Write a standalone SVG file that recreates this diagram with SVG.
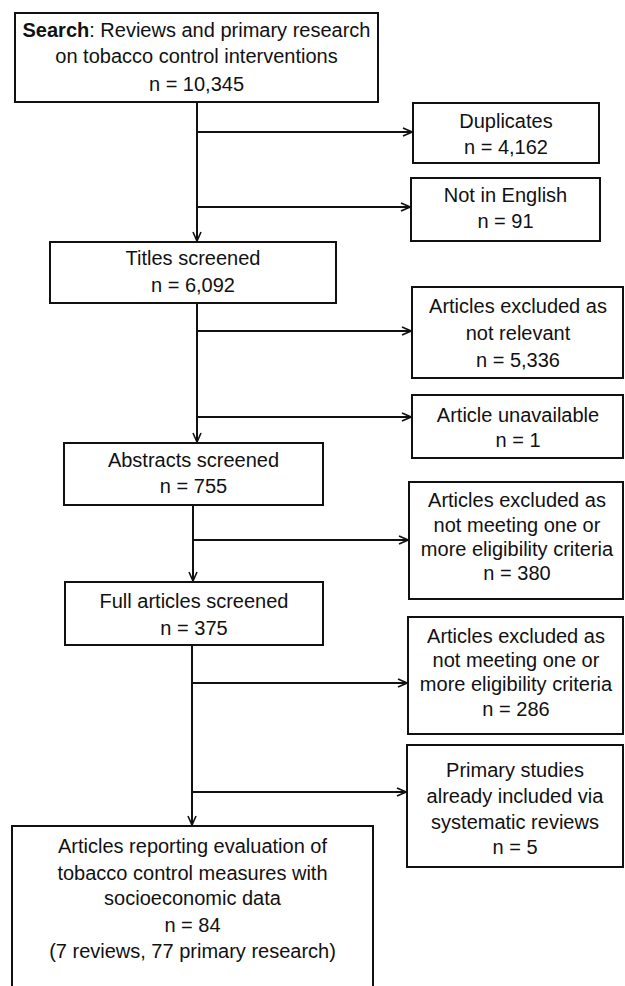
<svg xmlns="http://www.w3.org/2000/svg" width="625" height="986" viewBox="0 0 625 986">
<style>
.box{fill:#fff;stroke:#111;stroke-width:2}
.t{font-family:"Liberation Sans",Arial,sans-serif;font-size:20px;fill:#111;text-anchor:middle}
.ln{stroke:#111;stroke-width:2;fill:none}
</style>
<defs>
<marker id="ah" viewBox="0 0 10 10" refX="10" refY="5" markerWidth="10" markerHeight="10" markerUnits="userSpaceOnUse" orient="auto">
<path d="M1,1 L10,5 L1,9" fill="none" stroke="#111" stroke-width="1.6"/>
</marker>
</defs>
<rect width="625" height="986" fill="#fff"/>
<g id="connectors">
<line class="ln" x1="197" y1="102" x2="197" y2="241" marker-end="url(#ah)"/>
<line class="ln" x1="197" y1="132" x2="412" y2="132" marker-end="url(#ah)"/>
<line class="ln" x1="197" y1="207" x2="410" y2="207" marker-end="url(#ah)"/>
<line class="ln" x1="197" y1="303" x2="197" y2="442" marker-end="url(#ah)"/>
<line class="ln" x1="197" y1="331" x2="411" y2="331" marker-end="url(#ah)"/>
<line class="ln" x1="197" y1="417" x2="411" y2="417" marker-end="url(#ah)"/>
<line class="ln" x1="193" y1="505" x2="193" y2="581" marker-end="url(#ah)"/>
<line class="ln" x1="193" y1="540" x2="408" y2="540" marker-end="url(#ah)"/>
<line class="ln" x1="192" y1="645" x2="192" y2="825" marker-end="url(#ah)"/>
<line class="ln" x1="192" y1="683" x2="407" y2="683" marker-end="url(#ah)"/>
<line class="ln" x1="192" y1="792" x2="406" y2="792" marker-end="url(#ah)"/>
</g>
<g id="search">
<rect class="box" x="15" y="13" width="363" height="89"/>
<text class="t" x="196.5" y="37"><tspan font-weight="bold">Search</tspan>: Reviews and primary research</text>
<text class="t" x="196.5" y="63">on tobacco control interventions</text>
<text class="t" x="196.5" y="91">n = 10,345</text>
</g>
<g id="duplicates">
<rect class="box" x="413" y="103" width="186" height="60"/>
<text class="t" x="506" y="128">Duplicates</text>
<text class="t" x="506" y="154">n = 4,162</text>
</g>
<g id="not-english">
<rect class="box" x="411" y="178" width="189" height="63"/>
<text class="t" x="505.5" y="202">Not in English</text>
<text class="t" x="505.5" y="228">n = 91</text>
</g>
<g id="titles">
<rect class="box" x="50" y="242" width="286" height="61"/>
<text class="t" x="193" y="265">Titles screened</text>
<text class="t" x="193" y="292">n = 6,092</text>
</g>
<g id="not-relevant">
<rect class="box" x="412" y="287" width="211" height="91"/>
<text class="t" x="518" y="313">Articles excluded as</text>
<text class="t" x="518" y="340">not relevant</text>
<text class="t" x="518" y="367">n = 5,336</text>
</g>
<g id="unavailable">
<rect class="box" x="412" y="395" width="211" height="63"/>
<text class="t" x="518" y="422">Article unavailable</text>
<text class="t" x="518" y="447">n = 1</text>
</g>
<g id="abstracts">
<rect class="box" x="64" y="443" width="259" height="62"/>
<text class="t" x="193.5" y="467">Abstracts screened</text>
<text class="t" x="193.5" y="493">n = 755</text>
</g>
<g id="excluded-380">
<rect class="box" x="409" y="482" width="214" height="117"/>
<text class="t" x="517" y="507">Articles excluded as</text>
<text class="t" x="517" y="532">not meeting one or</text>
<text class="t" x="517" y="556">more eligibility criteria</text>
<text class="t" x="517" y="580">n = 380</text>
</g>
<g id="full">
<rect class="box" x="65" y="582" width="258" height="63"/>
<text class="t" x="194" y="608">Full articles screened</text>
<text class="t" x="194" y="635">n = 375</text>
</g>
<g id="excluded-286">
<rect class="box" x="408" y="617" width="215" height="117"/>
<text class="t" x="516" y="643">Articles excluded as</text>
<text class="t" x="516" y="667">not meeting one or</text>
<text class="t" x="516" y="691">more eligibility criteria</text>
<text class="t" x="516" y="716">n = 286</text>
</g>
<g id="primary">
<rect class="box" x="407" y="745" width="216" height="122"/>
<text class="t" x="515" y="777">Primary studies</text>
<text class="t" x="515" y="803">already included via</text>
<text class="t" x="515" y="829">systematic reviews</text>
<text class="t" x="515" y="854">n = 5</text>
</g>
<g id="final">
<rect class="box" x="12" y="826" width="361" height="165"/>
<text class="t" x="192.5" y="853">Articles reporting evaluation of</text>
<text class="t" x="192.5" y="880">tobacco control measures with</text>
<text class="t" x="192.5" y="905">socioeconomic data</text>
<text class="t" x="192.5" y="932">n = 84</text>
<text class="t" x="192.5" y="958">(7 reviews, 77 primary research)</text>
</g>
</svg>
